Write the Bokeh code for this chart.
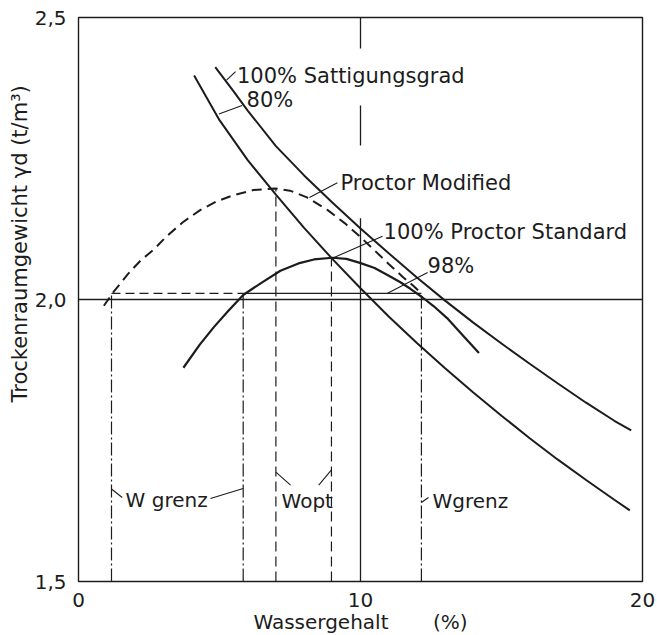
from math import pi
from bokeh.plotting import figure
from bokeh.models import Label, Range1d, FixedTicker, CustomJSTickFormatter, Span, Title
from bokeh.embed import file_html
from bokeh.resources import INLINE

# ---------------- data ----------------
w_axis = [0, 20]            # Wassergehalt (%)
g_axis = [1.5, 2.5]         # Trockenraumgewicht (t/m3)
x_ticks = [0, 10, 20]
y_ticks = [1.5, 2.0, 2.5]

# 100 % Saettigungsgrad
sat100_w = [4.85, 5.5, 6.0, 7.0, 8.0, 9.0, 10.0, 11.0, 12.0, 13.0, 14.0, 15.0, 16.0, 17.0, 18.0, 19.0, 19.6]
sat100_g = [2.412, 2.369, 2.335, 2.272, 2.220, 2.172, 2.126, 2.082, 2.039, 1.998, 1.959, 1.922, 1.886, 1.851, 1.817, 1.785, 1.768]

# 80 % Saettigungsgrad
sat80_w = [4.1, 5.0, 6.0, 7.0, 8.0, 9.0, 10.0, 11.0, 12.0, 13.0, 14.0, 15.0, 16.0, 17.0, 18.0, 19.0, 19.55]
sat80_g = [2.397, 2.318, 2.247, 2.186, 2.127, 2.072, 2.020, 1.970, 1.923, 1.878, 1.835, 1.794, 1.754, 1.716, 1.680, 1.645, 1.626]

# Proctor Modified
mod_w = [0.9, 1.25, 1.75, 2.2, 2.7, 3.1, 3.7, 4.3, 4.9, 5.5, 6.2, 6.95, 7.5, 8.1, 8.85, 9.45, 9.95, 10.5, 11.0, 11.5, 11.9, 12.15]
mod_g = [1.989, 2.014, 2.045, 2.069, 2.090, 2.111, 2.137, 2.158, 2.174, 2.185, 2.194, 2.197, 2.193, 2.181, 2.158, 2.135, 2.113, 2.087, 2.063, 2.040, 2.023, 2.011]

# 100 % Proctor Standard
std_w = [3.72, 4.3, 4.8, 5.3, 5.84, 6.5, 7.16, 7.8, 8.35, 9.0, 9.5, 9.98, 10.5, 10.94, 11.4, 11.77, 12.19, 12.6, 13.07, 13.6, 14.2]
std_g = [1.879, 1.920, 1.951, 1.979, 2.008, 2.030, 2.051, 2.064, 2.071, 2.074, 2.072, 2.065, 2.056, 2.044, 2.031, 2.019, 2.004, 1.988, 1.967, 1.938, 1.905]

w_opt = [7.0, 8.97]          # Wopt (Modified, Standard)
g_max = [2.197, 2.074]       # maximum dry density
w_grenz = [1.17, 5.84, 12.16]
g_98 = 2.011                 # 98 % line
g_ref = 2.0
w_ref = 10.0
w_ref_pieces = [(2.5, 2.445), (2.344, 2.273), (2.144, 1.5)]

# ---------------- styling / layout ----------------
INK = "#1c1c1c"
FONT = "DejaVu Sans"
FS = "20px"
FS_BIG = "21px"

p = figure(frame_width=564, frame_height=564,
           x_range=Range1d(*w_axis), y_range=Range1d(*g_axis),
           output_backend="svg", toolbar_location=None,
           min_border_left=78, min_border_right=15, min_border_top=17, min_border_bottom=54)
p.grid.visible = False
p.background_fill_color = "white"
p.border_fill_color = "white"
p.outline_line_color = INK
p.outline_line_width = 1.4
p.outline_line_alpha = 1.0

for ax in (p.xaxis[0], p.yaxis[0]):
    ax.axis_line_color = None
    ax.major_tick_line_color = None
    ax.minor_tick_line_color = None
    ax.major_label_text_font = FONT
    ax.major_label_text_font_size = FS
    ax.major_label_text_color = INK
p.xaxis.ticker = FixedTicker(ticks=x_ticks)
p.yaxis.ticker = FixedTicker(ticks=y_ticks)
p.xaxis.formatter = CustomJSTickFormatter(code="return tick.toFixed(0)")
p.yaxis.formatter = CustomJSTickFormatter(code="return tick.toFixed(1).replace('.', ',')")
p.xaxis.major_label_standoff = 5
p.yaxis.major_label_standoff = 6

nb = "\u00a0"
p.xaxis.axis_label = "Wassergehalt" + nb * 7 + "(%)"
p.xaxis.axis_label_text_font = FONT
p.xaxis.axis_label_text_font_size = FS
p.xaxis.axis_label_text_font_style = "normal"
p.xaxis.axis_label_text_color = INK
p.xaxis.axis_label_standoff = 0

p.add_layout(Title(text="Trockenraumgewicht γd (t/m³)", align="left", offset=179,
                   text_font=FONT, text_font_size=FS_BIG, text_font_style="normal",
                   text_color=INK, standoff=0), "left")

# reference lines
p.add_layout(Span(location=g_ref, dimension="width", line_color=INK, line_width=1.3))
for top, bot in w_ref_pieces:
    p.line([w_ref, w_ref], [top, bot], line_color=INK, line_width=1.3)

# 98 % line: dashed part then solid part
p.line([w_grenz[0], w_grenz[1]], [g_98, g_98], line_color=INK, line_width=1.3, line_dash="9 5")
p.line([w_grenz[1], w_grenz[2]], [g_98, g_98], line_color=INK, line_width=1.3)

# W grenz dash-dot verticals
p.segment(x0=w_grenz, y0=[g_axis[0]] * 3, x1=w_grenz, y1=[g_98] * 3,
          line_color=INK, line_width=1.2, line_dash="13 3 2 3")
# Wopt dashed verticals
p.segment(x0=w_opt, y0=[g_axis[0]] * 2, x1=w_opt, y1=g_max,
          line_color=INK, line_width=1.2, line_dash="10 5")

# curves
p.line(sat100_w, sat100_g, line_color=INK, line_width=2)
p.line(sat80_w, sat80_g, line_color=INK, line_width=2)
p.line(mod_w, mod_g, line_color=INK, line_width=2, line_dash="10 6")
p.line(std_w, std_g, line_color=INK, line_width=2.2)

# leader lines (annotation layout)
leaders = [
    (5.25, 2.389, 5.57, 2.404),
    (4.98, 2.329, 5.80, 2.344),
    (8.19, 2.181, 9.18, 2.207),
    (9.04, 2.074, 10.78, 2.112),
    (10.96, 2.011, 12.38, 2.048),
    (1.17, 1.664, 1.55, 1.649),
    (4.68, 1.647, 5.84, 1.665),
    (7.0, 1.694, 7.52, 1.671),
    (8.52, 1.671, 8.97, 1.698),
    (12.16, 1.640, 12.41, 1.649),
]
p.segment(x0=[l[0] for l in leaders], y0=[l[1] for l in leaders],
          x1=[l[2] for l in leaders], y1=[l[3] for l in leaders],
          line_color=INK, line_width=1.1)

notes = [
    ("100% Sattigungsgrad", 5.62, 2.397, FS_BIG),
    ("80%", 5.96, 2.353, FS_BIG),
    ("Proctor Modified", 9.29, 2.206, FS_BIG),
    ("100% Proctor Standard", 10.82, 2.119, FS_BIG),
    ("98%", 12.38, 2.059, FS_BIG),
    ("W grenz", 1.67, 1.644, FS),
    ("Wopt", 7.2, 1.642, FS),
    ("Wgrenz", 12.55, 1.642, FS),
]
for txt, x, y, fs in notes:
    p.add_layout(Label(x=x, y=y, text=txt, text_font=FONT, text_font_size=fs,
                       text_color=INK, text_align="left", text_baseline="middle"))

open("out.html", "w").write(file_html(p, INLINE))
